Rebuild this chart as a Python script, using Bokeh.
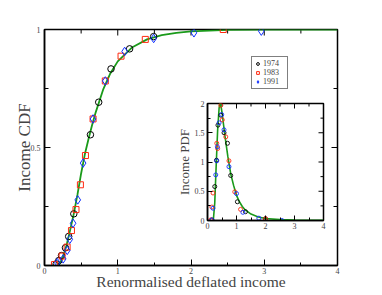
from bokeh.plotting import figure
from bokeh.layouts import column
from bokeh.models import Range1d, SingleIntervalTicker, Legend, LegendItem
from bokeh.embed import file_html
from bokeh.resources import INLINE
import math

FONT = "Liberation Serif"

# ---------------- data ----------------
years = ["1974", "1983", "1991"]

# CDF (main panel)
cdf_1974_x = [0.16, 0.195, 0.232, 0.286, 0.33, 0.40, 0.627, 0.74, 0.908, 1.162, 1.49]
cdf_1974_y = [0.007, 0.021, 0.042, 0.075, 0.123, 0.219, 0.554, 0.692, 0.833, 0.918, 0.97]
cdf_1983_x = [0.136, 0.24, 0.309, 0.368, 0.43, 0.49, 0.559, 0.663, 0.83, 1.045, 1.376, 2.44]
cdf_1983_y = [0.004, 0.04, 0.078, 0.148, 0.237, 0.342, 0.466, 0.621, 0.782, 0.887, 0.958, 1.0]
cdf_1991_x = [0.175, 0.255, 0.31, 0.345, 0.39, 0.454, 0.527, 0.663, 0.83, 1.094, 1.49, 2.04, 2.96]
cdf_1991_y = [0.012, 0.028, 0.064, 0.111, 0.179, 0.278, 0.434, 0.621, 0.782, 0.907, 0.962, 0.986, 0.993]
cdf_fit_x = [0.19, 0.22, 0.25, 0.3, 0.35, 0.4, 0.45, 0.5, 0.55, 0.6, 0.65, 0.7, 0.8, 0.9, 1.0,
             1.2, 1.4, 1.6, 1.8, 2.0, 2.5, 3.0, 4.0]
cdf_fit_y = [0.0, 0.015, 0.035, 0.085, 0.15, 0.22, 0.30, 0.39, 0.47, 0.535, 0.595, 0.65, 0.745, 0.815, 0.865,
             0.925, 0.958, 0.976, 0.986, 0.992, 0.998, 1.0, 1.0]

# PDF (inset)
pdf_1974_x = [0.15, 0.25, 0.31, 0.36, 0.46, 0.57, 0.69, 0.80, 1.03, 1.31, 2.0]
pdf_1974_y = [0.01, 0.58, 1.03, 1.63, 1.80, 1.50, 1.32, 0.77, 0.32, 0.15, 0.03]
pdf_1983_x = [0.11, 0.15, 0.19, 0.32, 0.35, 0.46, 0.51, 0.63, 0.74, 0.94, 1.14, 2.0]
pdf_1983_y = [0.01, 0.23, 0.47, 1.32, 1.23, 1.97, 1.72, 1.43, 1.02, 0.49, 0.19, 0.03]
pdf_1991_x = [0.15, 0.19, 0.285, 0.32, 0.34, 0.40, 0.49, 0.57, 0.74, 1.0, 1.22, 1.77, 2.57]
pdf_1991_y = [0.01, 0.21, 0.78, 1.02, 1.26, 1.67, 1.81, 1.55, 0.92, 0.46, 0.14, 0.04, 0.0]
pdf_fit_x = [0.2, 0.25, 0.3, 0.35, 0.4, 0.43, 0.46, 0.5, 0.6, 0.7, 0.8, 0.9, 1.0, 1.1, 1.2, 1.3,
             1.5, 1.75, 2.0, 2.5, 3.0, 3.5, 4.0]
pdf_fit_y = [0.0, 0.3, 0.95, 1.55, 1.92, 2.0, 1.97, 1.85, 1.45, 1.1, 0.8, 0.6, 0.43, 0.32, 0.24, 0.18,
             0.11, 0.06, 0.035, 0.015, 0.007, 0.004, 0.002]

main_x_ticks = [0, 1, 2, 3, 4]
main_x_minor = [0.5, 1.5, 2.5, 3.5]
main_x_labels = ["0", "1", "2", "3", "4"]
main_y_ticks = [0, 0.5, 1]
main_y_minor = [0.25, 0.75]
main_y_labels = ["0", "0.5", "1"]
inset_x_ticks = [0, 1, 2, 3, 4]
inset_x_minor = [0.5, 1.5, 2.5, 3.5]
inset_x_labels = ["0", "1", "2", "3", "4"]
inset_y_ticks = [0, 0.5, 1, 1.5, 2]
inset_y_minor = [0.25, 0.75, 1.25, 1.75]
inset_y_labels = ["0", "0.5", "1", "1.5", "2"]

GREEN = "#1a9a1a"
RED = "#ff2a10"
BLUE = "#1030ff"


def style_axis(ax, interval, labels_map, major_in, minor_in, standoff):
    ax.ticker = SingleIntervalTicker(interval=interval, num_minor_ticks=2)
    ax.major_tick_in = major_in
    ax.major_tick_out = 0
    ax.minor_tick_in = minor_in
    ax.minor_tick_out = 0
    ax.axis_line_width = 1.5
    ax.major_tick_line_width = 1
    ax.minor_tick_line_width = 1
    ax.major_label_text_font = FONT
    ax.major_label_overrides = labels_map
    ax.major_label_text_font_size = "8px"
    ax.major_label_standoff = standoff


def mirror_ticks(fig, x_major, x_minor, y_major, y_minor, x_end, y_end, major_len, minor_len):
    # ticks on the top and right spines, pointing inward (outer half clipped by the frame)
    fig.scatter(x_major, [y_end] * len(x_major), marker="dash", angle=math.pi / 2,
                size=2 * major_len, line_color="black", line_width=1)
    fig.scatter(x_minor, [y_end] * len(x_minor), marker="dash", angle=math.pi / 2,
                size=2 * minor_len, line_color="black", line_width=1)
    fig.scatter([x_end] * len(y_major), y_major, marker="dash",
                size=2 * major_len, line_color="black", line_width=1)
    fig.scatter([x_end] * len(y_minor), y_minor, marker="dash",
                size=2 * minor_len, line_color="black", line_width=1)


# ---------------- main figure ----------------
main = figure(width=382, height=295, x_range=Range1d(0, 4), y_range=Range1d(0, 1),
              output_backend="svg", toolbar_location=None,
              min_border_left=44, min_border_right=45, min_border_top=29, min_border_bottom=30)
main.grid.visible = False
main.outline_line_color = "black"
main.outline_line_width = 1.5

style_axis(main.xaxis[0], 1, dict(zip(main_x_ticks, main_x_labels)), 6, 3, 2)
style_axis(main.yaxis[0], 0.5, dict(zip(main_y_ticks, main_y_labels)), 6, 4, 4)
main.xaxis.axis_label = "Renormalised deflated income"
main.xaxis.axis_label_text_font = FONT
main.xaxis.axis_label_text_font_style = "normal"
main.xaxis.axis_label_text_font_size = "15.5px"
main.xaxis.axis_label_standoff = -4
main.yaxis.axis_label = "Income CDF"
main.yaxis.axis_label_text_font = FONT
main.yaxis.axis_label_text_font_style = "normal"
main.yaxis.axis_label_text_font_size = "17px"
main.yaxis.axis_label_standoff = -6

mirror_ticks(main, main_x_ticks, main_x_minor, main_y_ticks, main_y_minor,
             main_x_ticks[-1], main_y_ticks[-1], 6, 4)

main.line(cdf_fit_x, cdf_fit_y, line_color=GREEN, line_width=1.8)
r74 = main.scatter(cdf_1974_x, cdf_1974_y, marker="circle", size=6.5, fill_color=None,
                   line_color="black", line_width=1)
r83 = main.scatter(cdf_1983_x, cdf_1983_y, marker="square", size=6, fill_color=None,
                   line_color=RED, line_width=1)
r91 = main.scatter(cdf_1991_x, cdf_1991_y, marker="diamond", size=8.5, fill_color=None,
                   line_color=BLUE, line_width=1)

legend = Legend(items=[LegendItem(label=years[0], renderers=[r74]),
                       LegendItem(label=years[1], renderers=[r83]),
                       LegendItem(label=years[2], renderers=[r91])],
                location=(207, 176), margin=0, padding=2, spacing=-1,
                glyph_width=7, glyph_height=7, label_height=7, label_width=22, label_standoff=2,
                label_text_font=FONT, label_text_font_size="8px",
                border_line_color="black", border_line_width=1, background_fill_alpha=1)
main.add_layout(legend)

# ---------------- inset figure ----------------
inset = figure(frame_width=116, frame_height=117, x_range=Range1d(0, 4), y_range=Range1d(0, 2),
               output_backend="svg", toolbar_location=None,
               min_border_left=44, min_border_right=5, min_border_top=5, min_border_bottom=12,
               margin=(-197, 0, 0, 163))
inset.grid.visible = False
inset.outline_line_color = "black"
inset.outline_line_width = 1.5
inset.border_fill_alpha = 0

style_axis(inset.xaxis[0], 1, dict(zip(inset_x_ticks, inset_x_labels)), 5, 3, 2)
style_axis(inset.yaxis[0], 0.5, dict(zip(inset_y_ticks, inset_y_labels)), 5, 3, 3)
inset.yaxis.axis_label = "Income PDF"
inset.yaxis.axis_label_text_font = FONT
inset.yaxis.axis_label_text_font_style = "normal"
inset.yaxis.axis_label_text_font_size = "13px"
inset.yaxis.axis_label_standoff = 0

mirror_ticks(inset, inset_x_ticks, inset_x_minor, inset_y_ticks, inset_y_minor,
             inset_x_ticks[-1], inset_y_ticks[-1], 5, 3)

inset.line(pdf_fit_x, pdf_fit_y, line_color=GREEN, line_width=1.6)
inset.scatter(pdf_1974_x, pdf_1974_y, marker="circle", size=4, fill_color=None,
              line_color="black", line_width=0.9)
inset.scatter(pdf_1983_x, pdf_1983_y, marker="circle", size=4, fill_color=None,
              line_color=RED, line_width=0.9)
inset.scatter(pdf_1991_x, pdf_1991_y, marker="circle", size=4, fill_color=None,
              line_color=BLUE, line_width=0.9)

p = column(main, inset)
open("out.html", "w").write(file_html(p, INLINE))
